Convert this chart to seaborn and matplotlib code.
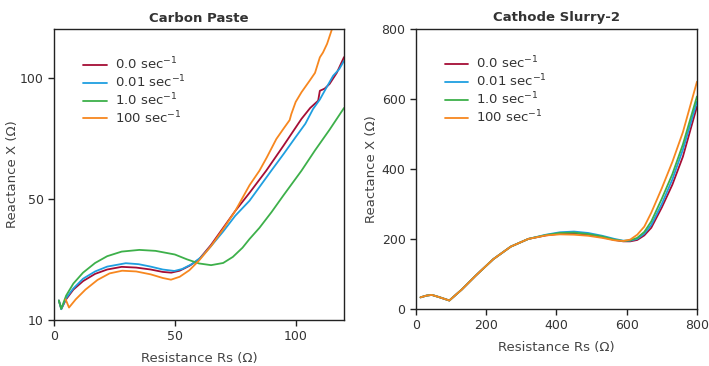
import pandas as pd
import matplotlib.pyplot as plt
import seaborn as sns

# shear rates used as legend labels
rates = ['0.0 sec$^{-1}$', '0.01 sec$^{-1}$', '1.0 sec$^{-1}$', '100 sec$^{-1}$']
colors = ['#a50d35', '#1f9fe0', '#3db04a', '#f7871f']

# Carbon Paste (left panel)
cp_x_0 = [2, 3, 5, 8, 12, 17, 22, 28, 34, 40, 45, 48.5, 52, 56, 60, 65, 70, 75, 81, 87.8, 95, 102.4, 106, 109.3, 110, 112, 114, 117, 120]
cp_y_0 = [8, 4.5, 8.5, 12.5, 16, 19, 20.8, 21.9, 21.6, 20.8, 19.8, 19.5, 20.3, 22.3, 25, 31, 38, 45, 52.6, 61.6, 72, 83, 87.5, 90.5, 94.6, 95.5, 97.4, 102, 108.5]
cp_x_001 = [2, 3, 5, 8, 12, 17, 22, 29.7, 35, 40, 45, 49.8, 53, 57, 61, 65, 70, 75, 80.9, 89.9, 95, 100, 104, 107.2, 110, 112.5, 115.5, 118, 120]
cp_y_001 = [8, 4.4, 9, 13, 17, 20, 22, 23.4, 23, 22, 20.8, 20.2, 21, 23, 26, 30.5, 36.5, 43, 49.2, 61.6, 68.5, 75.5, 81, 87.1, 91, 95.5, 100.8, 103.5, 107]
cp_x_1 = [2, 3, 5, 8, 12, 17, 22, 28, 35.3, 42, 50, 55, 60, 65, 70, 74, 78, 80.9, 85, 90, 95, 102.4, 108, 114, 120]
cp_y_1 = [8, 4.6, 10, 15, 19.5, 23.5, 26.3, 28.2, 28.9, 28.5, 27, 25, 23.3, 22.6, 23.5, 26, 29.8, 33.4, 38, 44.5, 51.5, 61.6, 70, 78.5, 87.5]
cp_x_100 = [4.8, 6.2, 9, 13, 18, 23, 28.2, 34, 40, 45, 48.4, 52, 56, 60, 65, 70, 75, 80.9, 85, 88, 92, 95, 97.5, 98.2, 100, 102.4, 105.8, 108, 110, 111.3, 113, 115, 116]
cp_y_100 = [8.5, 5.1, 8.5, 12.5, 16.5, 19.2, 20.3, 20, 18.8, 17.3, 16.6, 17.8, 20.5, 24.5, 30.5, 37.5, 45, 55.6, 61.6, 67, 74.7, 79, 82.5, 85, 90, 94, 98.8, 102, 108.4, 110.4, 114, 120, 123]
cp_yticks = [0, 50, 100]
cp_yticklabels = ['10', '50', '100']

# Cathode Slurry-2 (right panel)
cs_x = [13, 30, 45, 65, 95, 130, 170, 220, 270, 320, 370, 410, 450, 490, 530, 565, 590, 610, 630, 650, 670, 700, 730, 760, 800]
cs_y_0 = [33, 38, 40, 34, 24, 55, 95, 142, 178, 200, 210, 215, 216, 212, 205, 197, 193, 193, 197, 210, 232, 290, 355, 435, 578]
cs_y_001 = [33, 38, 40, 34, 24, 55, 95, 142, 178, 200, 212, 219, 221, 217, 209, 200, 195, 195, 200, 215, 240, 300, 370, 455, 592]
cs_y_1 = [33, 38, 40, 34, 24, 55, 95, 142, 178, 200, 211, 217, 218, 214, 207, 198, 194, 196, 203, 220, 250, 315, 385, 470, 607]
cs_y_100 = [33, 38, 40, 34, 24, 55, 95, 142, 178, 200, 210, 213, 212, 209, 203, 196, 194, 198, 212, 235, 275, 345, 420, 505, 649]

cp = pd.concat([
    pd.DataFrame({'x': cp_x_0, 'y': cp_y_0, 'rate': rates[0]}),
    pd.DataFrame({'x': cp_x_001, 'y': cp_y_001, 'rate': rates[1]}),
    pd.DataFrame({'x': cp_x_1, 'y': cp_y_1, 'rate': rates[2]}),
    pd.DataFrame({'x': cp_x_100, 'y': cp_y_100, 'rate': rates[3]}),
])
cs = pd.concat([
    pd.DataFrame({'x': cs_x, 'y': cs_y_0, 'rate': rates[0]}),
    pd.DataFrame({'x': cs_x, 'y': cs_y_001, 'rate': rates[1]}),
    pd.DataFrame({'x': cs_x, 'y': cs_y_1, 'rate': rates[2]}),
    pd.DataFrame({'x': cs_x, 'y': cs_y_100, 'rate': rates[3]}),
])

sns.set_style('ticks')
plt.rcParams['font.family'] = ['DejaVu Sans']
plt.rcParams['text.color'] = '#333333'
plt.rcParams['xtick.color'] = '#222222'
plt.rcParams['ytick.color'] = '#222222'
plt.rcParams['xtick.labelcolor'] = '#333333'
plt.rcParams['ytick.labelcolor'] = '#333333'

fig = plt.figure(figsize=(7.09, 3.66), dpi=100)
ax1 = fig.add_axes([0.0762, 0.126, 0.4090, 0.794])
ax2 = fig.add_axes([0.5867, 0.156, 0.3963, 0.765])

palette = dict(zip(rates, colors))

sns.lineplot(data=cp, x='x', y='y', hue='rate', palette=palette, sort=False,
             estimator=None, linewidth=1.3, ax=ax1)
sns.lineplot(data=cs, x='x', y='y', hue='rate', palette=palette, sort=False,
             estimator=None, linewidth=1.3, ax=ax2)

ax1.set_xlim(0, 120)
ax1.set_ylim(0, 120)
ax1.set_xticks([0, 50, 100])
ax1.set_yticks(cp_yticks)
ax1.set_yticklabels(cp_yticklabels)
ax1.set_title('Carbon Paste', fontsize=9.5, fontweight='bold', pad=5)

ax2.set_xlim(0, 800)
ax2.set_ylim(0, 800)
ax2.set_xticks([0, 200, 400, 600, 800])
ax2.set_yticks([0, 200, 400, 600, 800])
ax2.set_title('Cathode Slurry-2', fontsize=9.5, fontweight='bold', pad=6)

for ax in (ax1, ax2):
    ax.set_xlabel('Resistance Rs (\u03a9)', fontsize=9.5, color='#444444', labelpad=6)
    ax.set_ylabel('Reactance X (\u03a9)', fontsize=9.5, color='#444444')
    ax.tick_params(labelsize=9, length=4, width=1)
    for s in ax.spines.values():
        s.set_color('#222222')
        s.set_linewidth(1)
    ax.legend(loc='upper left', bbox_to_anchor=(0.06, 0.95), frameon=False,
              fontsize=9.5, labelspacing=0.1, handlelength=1.8, handletextpad=0.6)

ax1.yaxis.set_label_coords(-0.12, 0.5)
ax2.yaxis.set_label_coords(-0.135, 0.5)

fig.savefig('out.png', dpi=100)
